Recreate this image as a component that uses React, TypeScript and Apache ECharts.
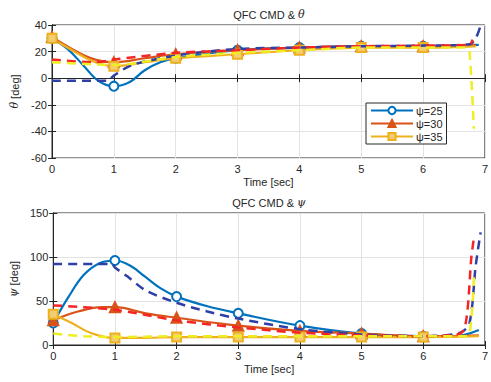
import React, { useEffect, useRef } from "react";
import * as echarts from "echarts";

// ---- Data (top: theta, bottom: psi) ----
const markerTimes = [0, 1, 2, 3, 4, 5, 6];
const legendNames = ["ψ=25", "ψ=30", "ψ=35"];

// Top: theta responses (solid) and commands (dashed)
const thBlueT = [0, 0.25, 0.5, 0.75, 1, 1.25, 1.5, 1.75, 2, 3, 4, 5, 6, 6.9];
const thBlueV = [30, 22, 10, -2, -6, -3, 6, 12, 15, 21, 23, 24, 24, 25];
const thOrangeT = [0, 0.4, 0.7, 1, 1.5, 2, 3, 4, 5, 6, 6.85];
const thOrangeV = [31, 20, 14, 12, 15, 18, 21, 23, 24, 24, 25];
const thYellowT = [0, 0.4, 0.7, 1, 1.5, 2, 3, 4, 5, 6, 6.85];
const thYellowV = [30, 19, 12, 9, 12, 15, 18, 21, 23, 23, 24];
const thCmdBlueT = [0, 0.9, 1, 1.3, 2, 3, 4, 5, 6, 6.75, 6.85, 6.92];
const thCmdBlueV = [-2, -2, 2, 10, 17, 22, 23, 24, 24.5, 25.5, 30, 38];
const thCmdRedT = [0, 0.7, 1, 2, 3, 4, 5, 6, 6.75, 6.8];
const thCmdRedV = [14, 12, 14, 19, 21, 23, 24, 24.5, 25, 29];
const thCmdYellowT = [0, 1, 2, 3, 4, 5, 6, 6.7, 6.75, 6.82];
const thCmdYellowV = [12, 10, 16, 19, 21, 23, 23, 23, 20, -38];

// Bottom: psi responses (solid) and commands (dashed)
const psBlueT = [0, 0.25, 0.5, 0.75, 1, 1.25, 1.5, 1.75, 2, 2.5, 3, 4, 5, 6, 6.5, 6.9];
const psBlueV = [25, 55, 80, 93, 96, 90, 77, 64, 55, 44, 36, 22, 13, 10, 10, 17];
const psOrangeT = [0, 0.4, 0.8, 1, 1.5, 2, 3, 4, 5, 6, 6.9];
const psOrangeV = [28, 38, 43, 43, 36, 31, 22, 16, 13, 10, 11];
const psYellowT = [0, 0.3, 0.6, 1, 1.5, 2, 3, 4, 5, 6, 6.9];
const psYellowV = [35, 25, 14, 8, 8, 9, 9, 9, 9, 9, 10];
const psCmdBlueT = [0, 0.95, 1, 1.2, 1.5, 2, 2.5, 3, 4, 5, 6, 6.6, 6.75, 6.85, 6.93];
const psCmdBlueV = [92, 92, 88, 78, 62, 48, 38, 30, 18, 12, 10, 14, 25, 90, 128];
const psCmdRedT = [0, 1, 2, 3, 4, 5, 6, 6.6, 6.7, 6.78, 6.82];
const psCmdRedV = [45, 40, 28, 20, 14, 11, 10, 13, 30, 100, 121];
const psCmdYellowT = [0, 0.5, 1, 2, 3, 4, 5, 6, 6.7, 6.78, 6.82];
const psCmdYellowV = [13, 10, 9, 10, 10, 10, 10, 10, 10, 30, 77];

const xTicks = [0, 7, 1];
const thTicks = [-60, 40, 20];
const psTicks = [0, 150, 50];

const C_BLUE = "#0072BD";
const C_ORANGE = "#D95319";
const C_YELLOW = "#EDB120";
const C_DBLUE = "#2E3FA6";
const C_RED = "#F52525";
const C_DYELLOW = "#EEEE22";
const FONT = "Liberation Sans";

function pts(t: number[], v: number[], markers: boolean) {
  return t.map((x, i) => {
    const item: any = { value: [x, v[i]] };
    if (!markers || !markerTimes.includes(x)) item.symbol = "none";
    return item;
  });
}

export default function App() {
  const ref = useRef<HTMLDivElement>(null);
  useEffect(() => {
    document.body.style.margin = "0";
    const chart = echarts.init(ref.current!, undefined, { renderer: "svg" });
    const axisLabel = { color: "#262626", fontFamily: FONT, fontSize: 11, margin: 5 };
    const splitLine = { show: true, lineStyle: { color: "#E3E3E3", width: 1 } };
    const mkX = (gi: number) => ({
      type: "value",
      gridIndex: gi,
      min: xTicks[0],
      max: xTicks[1],
      interval: xTicks[2],
      name: "Time [sec]",
      nameLocation: "middle",
      nameGap: 18,
      nameTextStyle: { color: "#262626", fontFamily: FONT, fontSize: 11 },
      axisLine: { show: true, lineStyle: { color: "#262626" } },
      axisTick: { show: true, inside: true, length: 4, lineStyle: { color: "#262626" } },
      axisLabel,
      splitLine,
    });
    const mkXTop = (gi: number) => ({
      type: "value",
      gridIndex: gi,
      position: "top",
      min: xTicks[0],
      max: xTicks[1],
      interval: xTicks[2],
      axisLine: { show: true, lineStyle: { color: "#262626" } },
      axisTick: { show: true, inside: true, length: 4, lineStyle: { color: "#262626" } },
      axisLabel: { show: false },
      splitLine: { show: false },
    });
    const mkY = (gi: number, ticks: number[], name: string) => ({
      type: "value",
      gridIndex: gi,
      min: ticks[0],
      max: ticks[1],
      interval: ticks[2],
      name,
      nameLocation: "middle",
      nameGap: 22,
      nameRotate: 90,
      nameTextStyle: {
        color: "#262626",
        fontFamily: FONT,
        fontSize: 11,
        rich: { i: { fontStyle: "italic", fontFamily: "DejaVu Serif", fontSize: 11, color: "#262626" } },
      },
      axisLine: { show: true, lineStyle: { color: "#262626" } },
      axisTick: { show: true, inside: true, length: 4, lineStyle: { color: "#262626" } },
      axisLabel,
      splitLine,
    });
    const mkYRight = (gi: number, ticks: number[]) => ({
      type: "value",
      gridIndex: gi,
      position: "right",
      min: ticks[0],
      max: ticks[1],
      interval: ticks[2],
      axisLine: { show: true, lineStyle: { color: "#262626" } },
      axisTick: { show: true, inside: true, length: 4, lineStyle: { color: "#262626" } },
      axisLabel: { show: false },
      splitLine: { show: false },
    });

    const solid = (name: string, gi: number, t: number[], v: number[], color: string, symbol: string, size: number, fill: string) => ({
      type: "line",
      name,
      xAxisIndex: gi * 2,
      yAxisIndex: gi * 2,
      data: pts(t, v, true),
      smooth: 0.4,
      symbol,
      symbolSize: size,
      showSymbol: true,
      lineStyle: { color, width: 2.2 },
      itemStyle: { color: fill, borderColor: color, borderWidth: 2 },
      z: 2,
    });
    const dashed = (name: string, gi: number, t: number[], v: number[], color: string) => ({
      type: "line",
      name,
      xAxisIndex: gi * 2,
      yAxisIndex: gi * 2,
      data: pts(t, v, false),
      smooth: 0.3,
      symbol: "none",
      lineStyle: { color, width: 2.5, type: [9, 6] },
      itemStyle: { color },
      z: 3,
    });

    const option: any = {
      animation: false,
      backgroundColor: "#ffffff",
      grid: [
        { left: 52, right: 5, top: 25, height: 133, show: true, borderColor: "#262626", borderWidth: 1 },
        { left: 52, right: 5, top: 213, height: 132, show: true, borderColor: "#262626", borderWidth: 1 },
      ],
      xAxis: [mkX(0), mkXTop(0), mkX(1), mkXTop(1)],
      yAxis: [mkY(0, thTicks, "{i|θ} [deg]"), mkYRight(0, thTicks), mkY(1, psTicks, "{i|ψ} [deg]"), mkYRight(1, psTicks)],
      legend: {
        data: legendNames,
        orient: "vertical",
        left: 366,
        top: 103,
        width: 76,
        padding: [2, 4, 2, 4],
        itemGap: 2,
        itemWidth: 42,
        itemHeight: 9,
        backgroundColor: "#ffffff",
        borderColor: "#262626",
        borderWidth: 1,
        borderRadius: 0,
        textStyle: { color: "#262626", fontFamily: FONT, fontSize: 11, padding: [0, 0, 0, -2] },
      },
      graphic: [
        {
          type: "text",
          x: 269,
          y: 9,
          style: {
            text: "QFC CMD & {i|θ}",
            fill: "#262626",
            font: `11px "${FONT}"`,
            textAlign: "center",
            rich: { i: { fontStyle: "italic", fontFamily: "DejaVu Serif", fontSize: 11, fill: "#262626" } },
          },
        },
        {
          type: "text",
          x: 269,
          y: 197,
          style: {
            text: "QFC CMD & {i|ψ}",
            fill: "#262626",
            font: `11px "${FONT}"`,
            textAlign: "center",
            rich: { i: { fontStyle: "italic", fontFamily: "DejaVu Serif", fontSize: 11, fill: "#262626" } },
          },
        },
      ],
      series: [
        solid(legendNames[0], 0, thBlueT, thBlueV, C_BLUE, "emptyCircle", 9, C_BLUE),
        solid(legendNames[1], 0, thOrangeT, thOrangeV, C_ORANGE, "triangle", 10, C_ORANGE),
        solid(legendNames[2], 0, thYellowT, thYellowV, C_YELLOW, "rect", 9, "#F3CD72"),
        dashed("cmd25", 0, thCmdBlueT, thCmdBlueV, C_DBLUE),
        dashed("cmd30", 0, thCmdRedT, thCmdRedV, C_RED),
        dashed("cmd35", 0, thCmdYellowT, thCmdYellowV, C_DYELLOW),
        solid(legendNames[0], 1, psBlueT, psBlueV, C_BLUE, "emptyCircle", 9, C_BLUE),
        solid(legendNames[1], 1, psOrangeT, psOrangeV, C_ORANGE, "triangle", 10, C_ORANGE),
        solid(legendNames[2], 1, psYellowT, psYellowV, C_YELLOW, "rect", 9, "#F3CD72"),
        dashed("cmd25b", 1, psCmdBlueT, psCmdBlueV, C_DBLUE),
        dashed("cmd30b", 1, psCmdRedT, psCmdRedV, C_RED),
        dashed("cmd35b", 1, psCmdYellowT, psCmdYellowV, C_DYELLOW),
      ],
    };
    chart.setOption(option);
    return () => chart.dispose();
  }, []);
  return <div ref={ref} style={{ width: 491, height: 382 }} />;
}
